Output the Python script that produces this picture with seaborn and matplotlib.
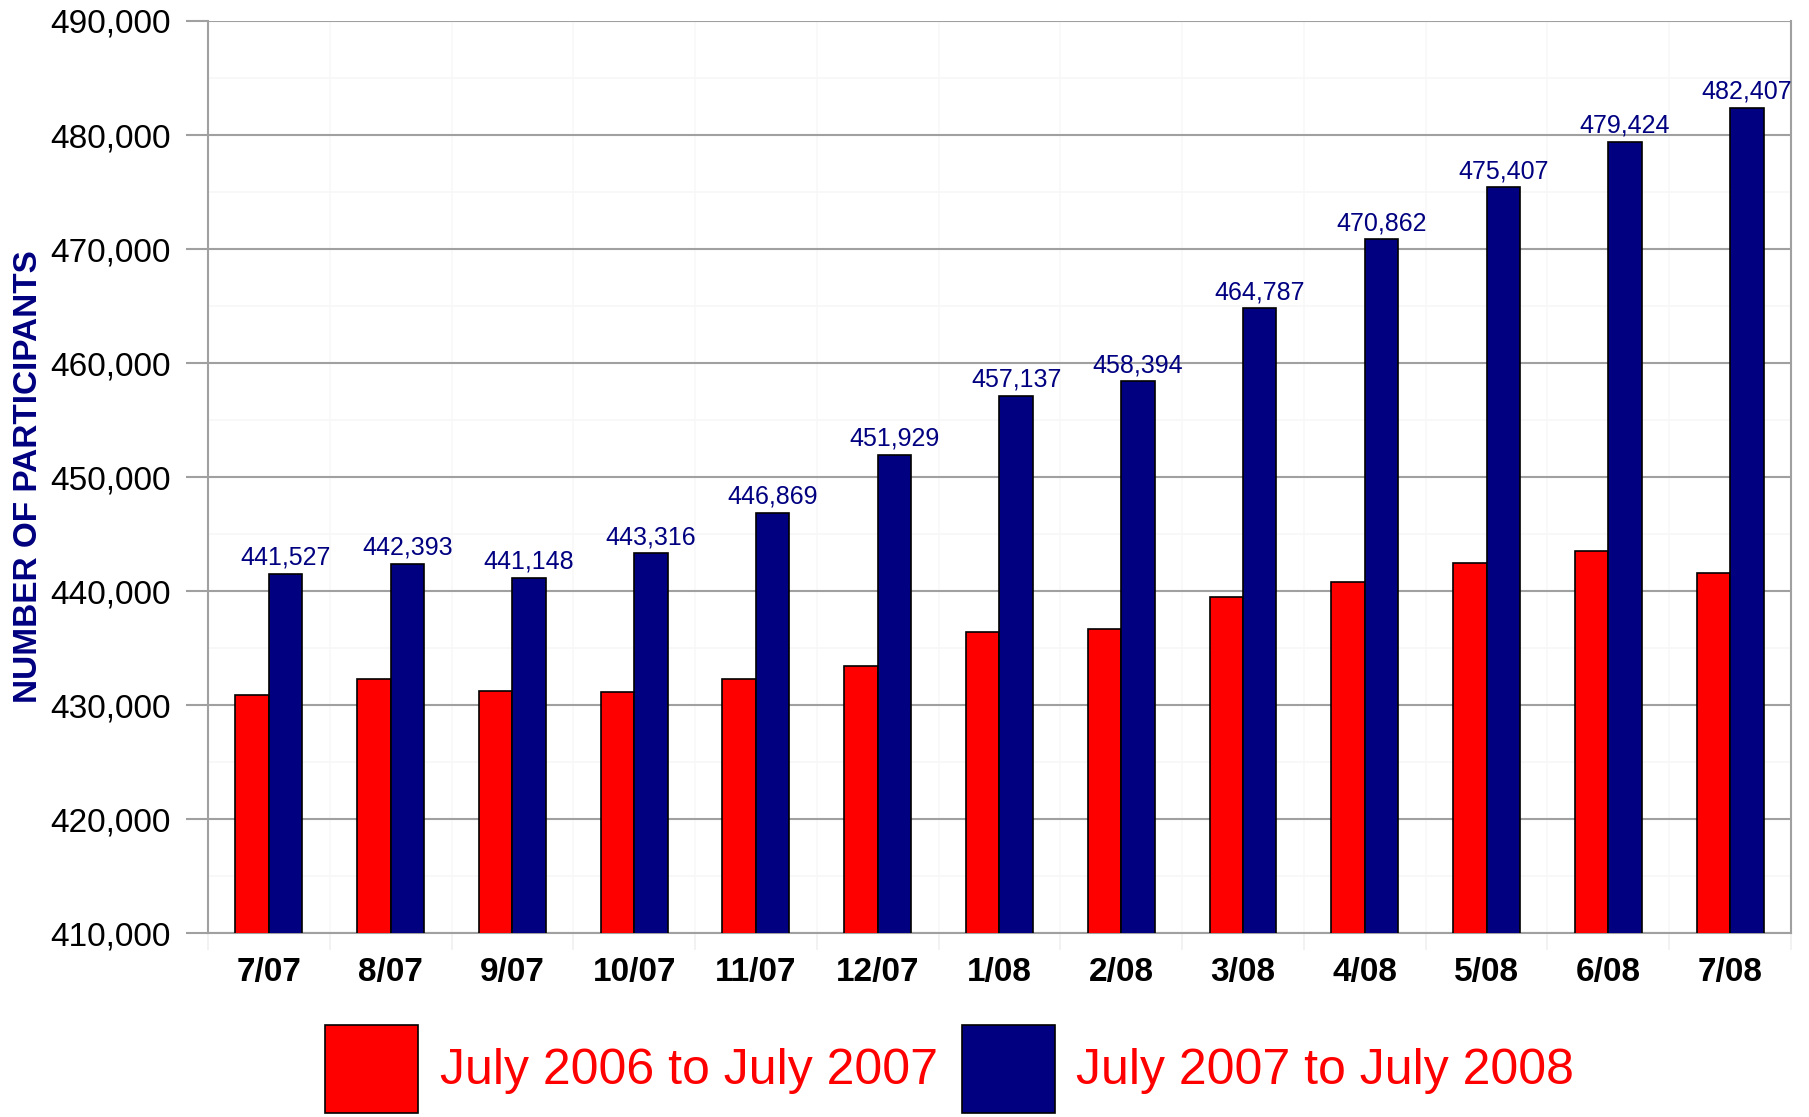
import matplotlib
matplotlib.use("Agg")
import matplotlib.pyplot as plt
from matplotlib.ticker import FixedLocator, MultipleLocator, FuncFormatter
import seaborn as sns
import pandas as pd

months = ["7/07", "8/07", "9/07", "10/07", "11/07", "12/07", "1/08",
          "2/08", "3/08", "4/08", "5/08", "6/08", "7/08"]
series_names = ["July 2006 to July 2007", "July 2007 to July 2008"]
prev_year = [430900, 432250, 431250, 431100, 432250, 433400, 436400,
             436700, 439450, 440760, 442490, 443540, 441550]
curr_year = [441527, 442393, 441148, 443316, 446869, 451929, 457137,
             458394, 464787, 470862, 475407, 479424, 482407]
colors = ["#ff0000", "#000080"]

df = pd.DataFrame({
    "month": months * 2,
    "series": [series_names[0]] * len(months) + [series_names[1]] * len(months),
    "value": prev_year + curr_year,
})

sns.set_theme(style="white")
plt.rcParams["font.family"] = ["Liberation Sans", "DejaVu Sans"]
plt.rcParams["text.color"] = "black"
plt.rcParams["xtick.color"] = "black"
plt.rcParams["ytick.color"] = "black"

fig = plt.figure(figsize=(18.09, 11.17), dpi=100)
ax = fig.add_axes([0.115, 0.1647, 0.875, 0.8165])

sns.barplot(data=df, x="month", y="value", hue="series", order=months,
            hue_order=series_names, palette=colors, width=0.55,
            edgecolor="black", linewidth=1.2, saturation=1, ax=ax, zorder=3)

ax.set_ylim(410000, 490000)
ax.set_xlim(-0.5, len(months) - 0.5)
ax.yaxis.set_major_locator(MultipleLocator(10000))
ax.yaxis.set_minor_locator(MultipleLocator(5000))
ax.yaxis.set_major_formatter(FuncFormatter(lambda v, p: f"{int(v):,}"))
ax.xaxis.set_minor_locator(FixedLocator([i + 0.5 for i in range(-1, len(months))]))

ax.grid(which="major", axis="y", color="#a0a0a0", linewidth=1.5, zorder=0)
ax.grid(which="minor", axis="y", color="#f7f7f7", linewidth=1.2, zorder=0)
ax.grid(which="minor", axis="x", color="#f8f8f8", linewidth=1.2, zorder=0)
ax.set_axisbelow(True)

for side in ["left", "right", "bottom", "top"]:
    ax.spines[side].set_color("#a0a0a0")
    ax.spines[side].set_linewidth(1.5)
ax.spines["top"].set_visible(False)

ax.tick_params(axis="y", which="major", length=16, width=1.5, color="#a0a0a0",
               direction="out", pad=11, labelsize=24, labelcolor="black", left=True)
ax.tick_params(axis="y", which="minor", length=0)
ax.tick_params(axis="x", which="major", length=0, pad=17, labelsize=24,
               labelcolor="black")
ax.tick_params(axis="x", which="minor", length=12, width=1.2, color="#f0f0f0",
               direction="out", bottom=True)
for lbl in ax.get_xticklabels():
    lbl.set_fontweight("bold")

ax.set_xlabel("")
ax.set_ylabel("NUMBER OF PARTICIPANTS", fontsize=24, fontweight="bold",
              color="#000080")
ax.yaxis.set_label_coords(-0.1035, 0.5)

ax.bar_label(ax.containers[1], labels=[f"{v:,}" for v in curr_year],
             padding=3, fontsize=18, color="#000080")

handles, labels = ax.get_legend_handles_labels()
if ax.get_legend() is not None:
    ax.get_legend().remove()
leg = fig.legend(handles, labels, loc="center", ncol=2,
                 bbox_to_anchor=(0.525, 0.043), frameon=False,
                 fontsize=36, handlelength=1.86, handleheight=2.33,
                 handletextpad=0.43, columnspacing=0.48)
for t in leg.get_texts():
    t.set_color("#ff0000")

fig.savefig("out.png", dpi=100, facecolor="white")
